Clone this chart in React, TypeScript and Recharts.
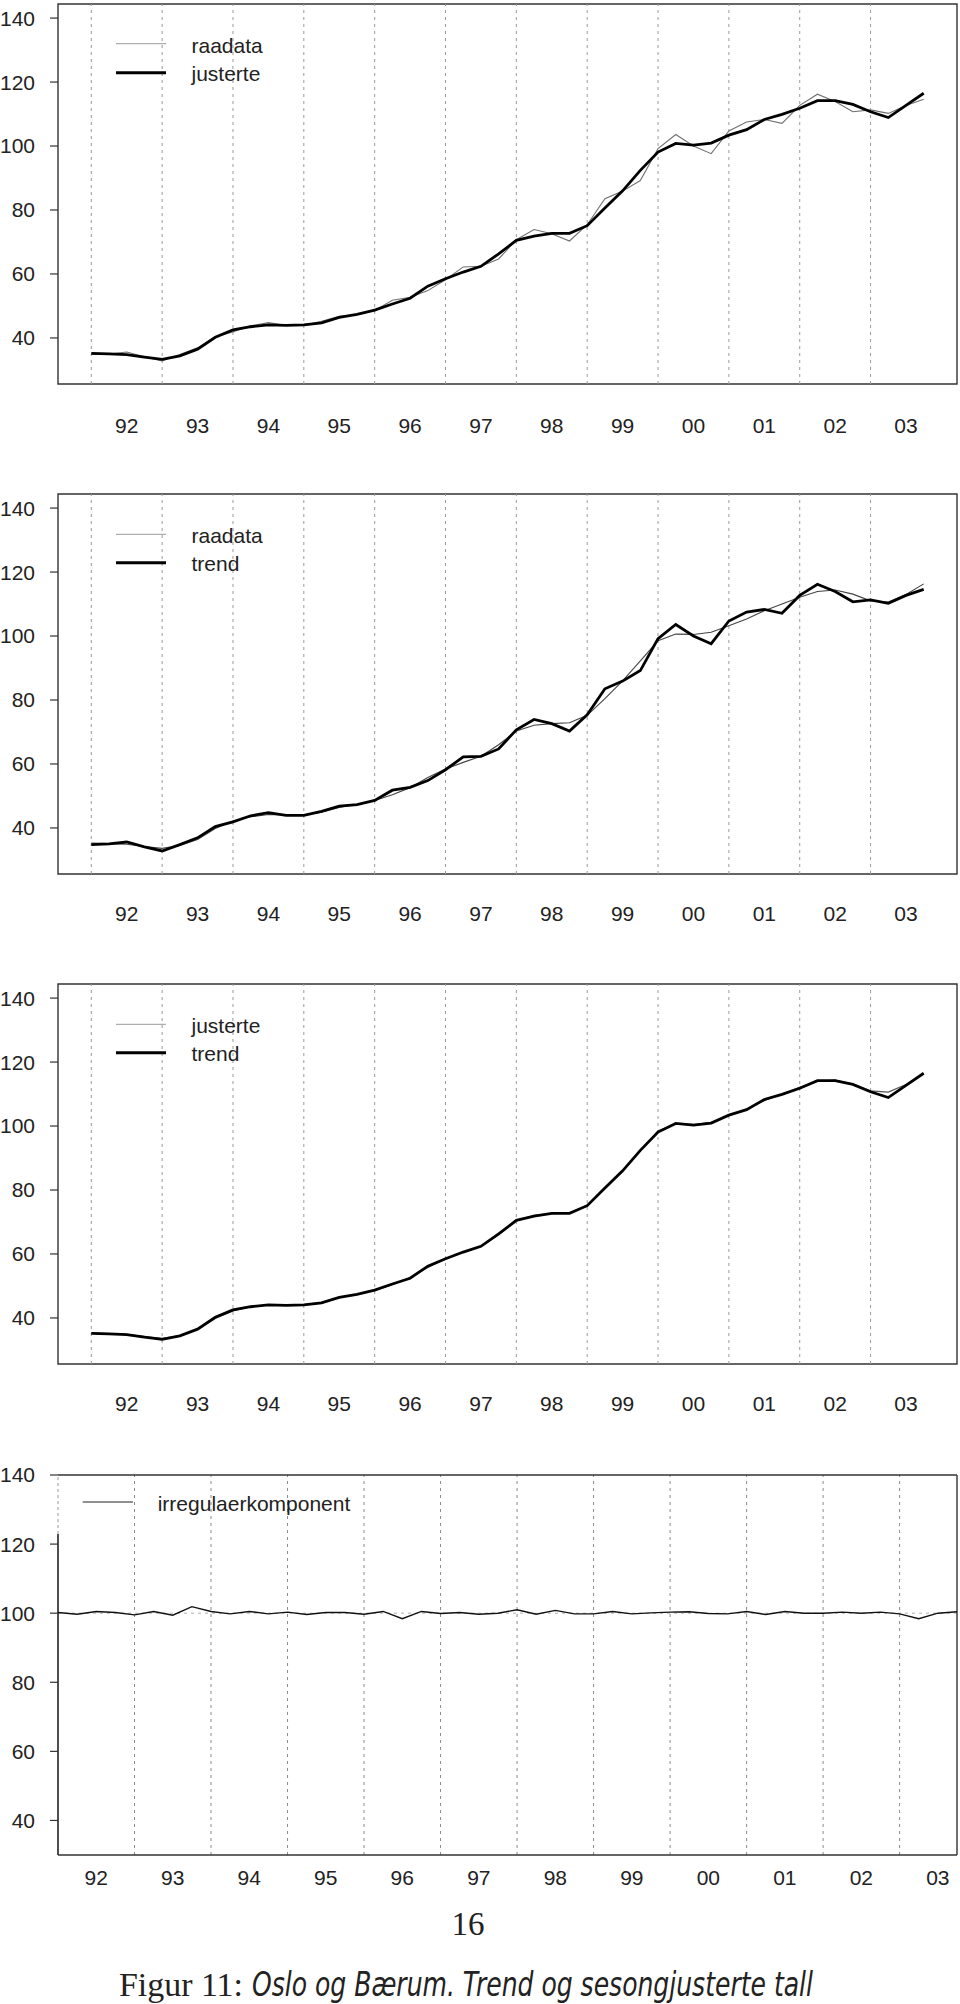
import React from 'react';
import { LineChart, Line, XAxis, YAxis, ReferenceLine, ReferenceArea } from 'recharts';

// ---- categories ----
const years = [1992, 1993, 1994, 1995, 1996, 1997, 1998, 1999, 2000, 2001, 2002, 2003];
const quarterFrac = [0, 0.25, 0.5, 0.75];
const yearLabels = ['92', '93', '94', '95', '96', '97', '98', '99', '00', '01', '02', '03'];
const yTicks = [40, 60, 80, 100, 120, 140];

// ---- series (quarterly, 1992Q1 - 2003Q4) ----
const raadata = [34.8, 35.0, 35.6, 34.1, 32.8, 34.8, 36.9, 40.4, 41.9, 43.8, 44.8, 43.9,
  43.9, 45.2, 46.8, 47.3, 48.6, 51.8, 52.7, 54.8, 58.2, 62.2, 62.4, 64.7,
  70.7, 73.9, 72.6, 70.3, 75.4, 83.5, 85.9, 89.2, 99.2, 103.6, 100.0, 97.6,
  104.7, 107.5, 108.3, 107.1, 112.7, 116.2, 113.9, 110.7, 111.3, 110.2, 112.7, 114.6];
const justerte = [35.2, 35.0, 34.8, 34.0, 33.3, 34.4, 36.5, 40.2, 42.5, 43.5, 44.1, 43.9,
  44.1, 44.7, 46.4, 47.4, 48.7, 50.6, 52.4, 56.2, 58.5, 60.6, 62.4, 66.3,
  70.5, 71.8, 72.7, 72.7, 75.1, 80.6, 86.0, 92.4, 98.1, 100.8, 100.3, 100.9,
  103.4, 105.1, 108.3, 109.9, 111.8, 114.2, 114.2, 113.0, 110.7, 108.9, 112.7, 116.5];
const trend = [35.3, 35.1, 34.9, 34.2, 33.6, 34.5, 36.4, 39.8, 42.2, 43.5, 44.2, 44.1,
  44.1, 44.9, 46.4, 47.4, 48.6, 50.4, 52.6, 55.8, 58.4, 60.5, 62.4, 66.0,
  70.3, 72.1, 72.6, 72.9, 75.2, 80.4, 86.0, 92.2, 98.5, 100.6, 100.5, 101.2,
  103.2, 105.3, 107.9, 110.0, 112.1, 113.9, 114.4, 113.1, 111.0, 110.6, 113.0, 116.3];
const irregular = [100.2, 99.7, 100.5, 100.2, 99.5, 100.5, 99.4, 101.9, 100.5, 99.8, 100.5, 99.8,
  100.3, 99.6, 100.2, 100.2, 99.7, 100.5, 98.4, 100.5, 99.9, 100.2, 99.7, 100.0,
  101.0, 99.7, 100.8, 99.8, 99.8, 100.5, 99.8, 100.1, 100.3, 100.4, 99.9, 99.8,
  100.5, 99.6, 100.5, 100.0, 100.0, 100.3, 100.0, 100.3, 99.8, 98.4, 100.0, 100.4];

const times: number[] = [];
years.forEach((y) => quarterFrac.forEach((q) => times.push(y + q)));
const data = times.map((t, i) => ({
  t,
  raadata: raadata[i],
  justerte: justerte[i],
  trend: trend[i],
  irregular: irregular[i],
}));
const yearMids = years.map((y) => y + 0.5);

const FONT = "'Liberation Sans', Arial, Helvetica, sans-serif";
const X_DOM: [number, number] = [1991.53, 2004.22];
const Y_DOM: [number, number] = [25.6, 144.4];
const X_DOM4: [number, number] = [1992, 2003.75];
const Y_DOM4: [number, number] = [30, 140];

const labelFor = (v: number) => {
  const idx = yearMids.findIndex((m) => Math.abs(m - v) < 1e-6);
  return idx >= 0 ? yearLabels[idx] : '';
};

const makeXTick = (dy: number) => (props: any) => {
  const { x, y, payload } = props;
  return (
    <text x={x} y={y} dy={dy} textAnchor="middle" fontFamily={FONT} fontSize={21} fill="#222">
      {labelFor(payload.value)}
    </text>
  );
};

type PanelProps = {
  top: number;
  labelDy: number;
  thin: string;
  thick: string;
  thinColor: string;
};

const Panel = ({ top, labelDy, thin, thick, thinColor }: PanelProps) => (
  <div style={{ position: 'absolute', left: 0, top: top - 20 }}>
    <LineChart width={960} height={490} data={data} margin={{ top: 24, right: 3, bottom: 0, left: 0 }}>
      <XAxis
        type="number"
        dataKey="t"
        domain={X_DOM}
        allowDataOverflow
        ticks={yearMids}
        interval={0}
        axisLine={false}
        tickLine={false}
        tickSize={0}
        tickMargin={0}
        height={86}
        tick={makeXTick(labelDy)}
      />
      <YAxis
        type="number"
        domain={Y_DOM}
        allowDataOverflow
        ticks={yTicks}
        interval={0}
        width={58}
        axisLine={false}
        tickLine={{ stroke: '#333', strokeWidth: 1.2 }}
        tickSize={8}
        tickMargin={15}
        tick={{ fontSize: 21, fill: '#222', fontFamily: FONT }}
      />
      {years.map((y) => (
        <ReferenceLine key={y} x={y} stroke="#9a9a9a" strokeWidth={1} strokeDasharray="3 4" />
      ))}
      <ReferenceArea x1={X_DOM[0]} x2={X_DOM[1]} y1={Y_DOM[0]} y2={Y_DOM[1]} fill="none" fillOpacity={0} stroke="#333" strokeWidth={1.4} ifOverflow="visible" />
      <Line type="linear" dataKey={thin} stroke={thinColor} strokeWidth={1.1} dot={false} isAnimationActive={false} />
      <Line type="linear" dataKey={thick} stroke="#000" strokeWidth={2.8} dot={false} isAnimationActive={false} />
    </LineChart>
  </div>
);

const Panel4 = () => (
  <div style={{ position: 'absolute', left: 0, top: 1445 }}>
    <LineChart width={960} height={490} data={data} margin={{ top: 30, right: 3, bottom: 0, left: 0 }}>
      <XAxis
        type="number"
        dataKey="t"
        domain={X_DOM4}
        allowDataOverflow
        ticks={yearMids}
        interval={0}
        axisLine={false}
        tickLine={false}
        tickSize={0}
        tickMargin={0}
        height={80}
        tick={makeXTick(29.5)}
      />
      <YAxis
        type="number"
        domain={Y_DOM4}
        allowDataOverflow
        ticks={yTicks}
        interval={0}
        width={58}
        axisLine={false}
        tickLine={{ stroke: '#333', strokeWidth: 1.2 }}
        tickSize={8}
        tickMargin={15}
        tick={{ fontSize: 21, fill: '#222', fontFamily: FONT }}
      />
      {years.slice(1).map((y) => (
        <ReferenceLine key={y} x={y} stroke="#8a8a8a" strokeWidth={1} strokeDasharray="3 4" />
      ))}
      <ReferenceLine y={100} stroke="#b0b0b0" strokeWidth={1} strokeDasharray="3 4" />
      <ReferenceLine y={140} stroke="#333" strokeWidth={1.4} />
      <ReferenceLine y={30} stroke="#333" strokeWidth={1.4} />
      <ReferenceLine x={2003.75} stroke="#333" strokeWidth={1.4} />
      <ReferenceLine segment={[{ x: 1992, y: 30 }, { x: 1992, y: 122.9 }]} stroke="#222" strokeWidth={1.6} />
      <ReferenceLine segment={[{ x: 1992, y: 122.9 }, { x: 1992, y: 140 }]} stroke="#999" strokeWidth={1} strokeDasharray="3 3" />
      <Line type="linear" dataKey="irregular" stroke="#111" strokeWidth={1.4} dot={false} isAnimationActive={false} />
    </LineChart>
  </div>
);

const Legend2 = ({ y1, y2, a, b }: { y1: number; y2: number; a: string; b: string }) => (
  <g>
    <line x1={116} x2={166} y1={y1} y2={y1} stroke="#9a9a9a" strokeWidth={1} />
    <line x1={116} x2={166} y1={y2} y2={y2} stroke="#000" strokeWidth={3} />
    <text x={191.5} y={y1 + 9} fontFamily={FONT} fontSize={21} fill="#222">{a}</text>
    <text x={191.5} y={y2 + 8} fontFamily={FONT} fontSize={21} fill="#222">{b}</text>
  </g>
);

export default function App() {
  return (
    <div style={{ position: 'absolute', left: 0, top: 0, width: 960, height: 2004, background: '#fff', overflow: 'hidden' }}>
      <Panel top={0} labelDy={48.5} thin="raadata" thick="justerte" thinColor="#707070" />
      <Panel top={490.3} labelDy={46.5} thin="trend" thick="raadata" thinColor="#444" />
      <Panel top={980.3} labelDy={47} thin="trend" thick="justerte" thinColor="#555" />
      <Panel4 />
      <svg width={960} height={2004} style={{ position: 'absolute', left: 0, top: 0, pointerEvents: 'none' }}>
        <Legend2 y1={43.7} y2={72.7} a="raadata" b="justerte" />
        <Legend2 y1={534.3} y2={562.7} a="raadata" b="trend" />
        <Legend2 y1={1024.3} y2={1052.7} a="justerte" b="trend" />
        <line x1={82.7} x2={133} y1={1502} y2={1502} stroke="#222" strokeWidth={1.2} />
        <text x={157.7} y={1510.5} fontFamily={FONT} fontSize={21} fill="#222">irregulaerkomponent</text>
        <text x={468} y={1935} textAnchor="middle" fontFamily="'Liberation Serif', 'DejaVu Serif', serif" fontSize={33} fill="#222">16</text>
        <text x={119} y={1996} fontSize={34} fill="#222" textLength={124} lengthAdjust="spacingAndGlyphs" fontFamily="'Liberation Serif', 'DejaVu Serif', serif">Figur 11:</text>
        <text x={252} y={1996} fontSize={34} fill="#222" textLength={561} lengthAdjust="spacingAndGlyphs" fontFamily="'Liberation Sans Narrow', 'DejaVu Sans Condensed', 'Liberation Sans', sans-serif" fontStyle="italic">Oslo og Bærum. Trend og sesongjusterte tall</text>
      </svg>
    </div>
  );
}
